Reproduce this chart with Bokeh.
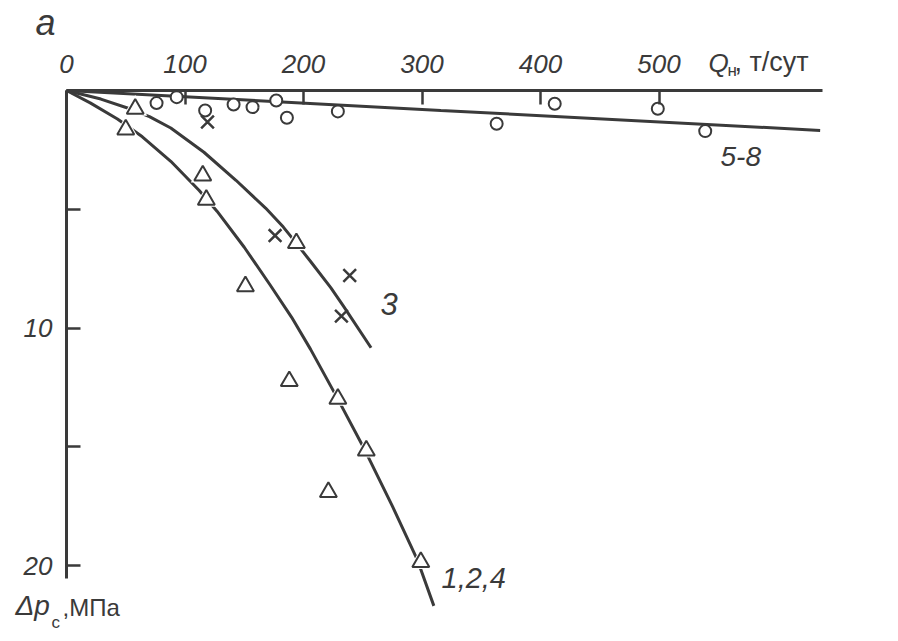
from bokeh.plotting import figure
from bokeh.models import Range1d, FixedTicker, Label, LinearAxis
from bokeh.embed import file_html
from bokeh.resources import INLINE

# ---------------- data ----------------
# wells 5-8 (circles)
circ_q = [76, 93, 117, 141, 157, 177, 186, 229, 363, 412, 499, 539]
circ_dp = [0.53, 0.28, 0.84, 0.59, 0.70, 0.42, 1.15, 0.88, 1.40, 0.56, 0.77, 1.71]
# wells 1,2,4 (triangles)
tri_q = [58, 50, 115, 118, 194, 151, 188, 229, 253, 221, 299]
tri_dp = [0.77, 1.65, 3.58, 4.60, 6.43, 8.25, 12.24, 12.98, 15.16, 16.91, 19.86]
# well 3 (crosses)
cross_q = [119, 176, 239, 232]
cross_dp = [1.33, 6.11, 7.79, 9.50]
# fitted curves
curve124_q = [0, 20, 43, 64, 88, 112, 127, 150, 172, 190, 206, 228, 252, 275, 296, 310]
curve124_dp = [0, 0.52, 1.20, 1.95, 2.98, 4.21, 5.08, 6.60, 8.20, 9.55, 10.90, 12.90,
               15.16, 17.50, 19.75, 21.70]
curve3_q = [0, 29, 54, 70, 88, 116, 143, 168, 183, 191, 206, 223, 234, 257]
curve3_dp = [0, 0.36, 0.78, 1.10, 1.58, 2.60, 3.78, 4.95, 5.75, 6.25, 7.20, 8.30, 9.10, 10.83]
curve58_q = [0, 316, 636]
curve58_dp = [0, 0.84, 1.68]
# axes
x_ticks = [0, 100, 200, 300, 400, 500]
y_ticks = [5, 10, 15, 20]
y_label_overrides = {5: "", 15: ""}

INK = "#3a3a3a"
FONT = "Liberation Sans"

# page px -> data helpers for annotation placement
PX0, PXS = 66.0, 1.185
PY0, PYS = 90.0, 23.75
def qx(px):
    return (px - PX0) / PXS
def dy(py):
    return (py - PY0) / PYS

W, H = 896, 639
p = figure(width=W, height=H, title=None,
           x_range=Range1d(qx(0), qx(W)), y_range=Range1d(dy(H), dy(0)),
           x_axis_location=None, y_axis_location=None,
           output_backend="svg", toolbar_location=None, min_border=0,
           outline_line_color=None, background_fill_color="white", border_fill_color="white")
p.grid.visible = False

xa = LinearAxis(fixed_location=0, ticker=FixedTicker(ticks=x_ticks), bounds=(0, qx(821.5)))
ya = LinearAxis(fixed_location=0, ticker=FixedTicker(ticks=y_ticks), bounds=(0, dy(578)),
                major_label_overrides=y_label_overrides)
for ax in (xa, ya):
    ax.axis_line_width = 3
    ax.axis_line_color = INK
    ax.major_tick_in = 14
    ax.major_tick_out = 0
    ax.major_tick_line_width = 2.5
    ax.major_tick_line_color = INK
    ax.minor_tick_line_color = None
    ax.major_label_text_font = FONT
    ax.major_label_text_font_size = "26px"
    ax.major_label_text_font_style = "italic"
    ax.major_label_text_color = INK
xa.major_label_standoff = 18
ya.major_label_standoff = 14
p.add_layout(xa, "above")
p.add_layout(ya, "left")

lw = 3
p.line(curve58_q, curve58_dp, line_width=lw, line_color=INK)
p.line(curve3_q, curve3_dp, line_width=lw, line_color=INK, line_join="round")
p.line(curve124_q, curve124_dp, line_width=lw, line_color=INK, line_join="round")

# white halos that break the curves at the triangles
p.scatter(tri_q, tri_dp, marker="triangle", size=24, fill_color="white", line_color=None)

p.scatter(circ_q, circ_dp, marker="circle", size=12, fill_color="white",
          line_color=INK, line_width=2)
p.scatter(tri_q, tri_dp, marker="triangle", size=17, fill_color="white",
          line_color=INK, line_width=2)
p.scatter(cross_q, cross_dp, marker="x", size=18, line_color=INK, line_width=2.5)

def lab(px, py, text, size, style="normal"):
    # py is the wanted baseline in page pixels; compensate the label's own offset
    p.add_layout(Label(x=qx(px), y=dy(py - 0.42 * size), text=text, text_font=FONT,
                       text_font_size=f"{size}px", text_font_style=style, text_color=INK,
                       text_align="left", text_baseline="alphabetic"))

lab(35, 37, "а", 36, "italic")
lab(708, 73, "Q", 26, "italic")
lab(727, 77, "н", 17)
lab(734, 73, ", т/сут", 27)
lab(720, 168, "5-8", 28, "italic")
lab(380, 317, "3", 31, "italic")
lab(441, 590, "1,2,4", 29, "italic")
lab(15, 617, "Δp", 28, "italic")
lab(51, 629, "с", 17)
lab(62, 617, ",МПа", 24)

open("out.html", "w").write(file_html(p, INLINE))
